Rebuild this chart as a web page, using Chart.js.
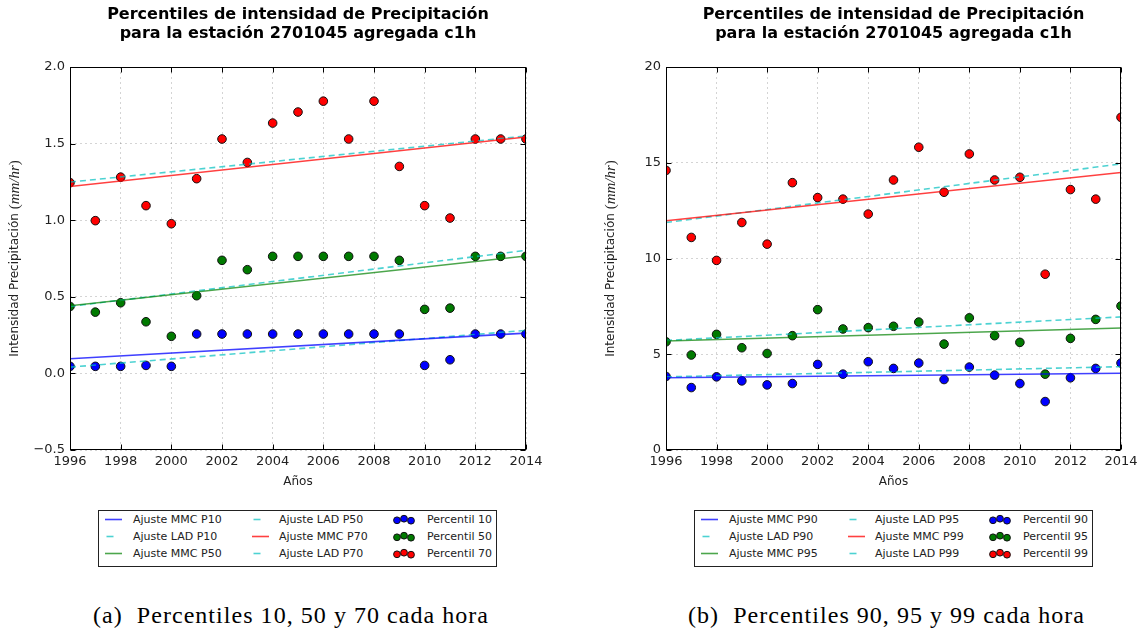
<!DOCTYPE html>
<html>
<head>
<meta charset="utf-8">
<script src="https://cdn.jsdelivr.net/npm/chart.js@4.4.1/dist/chart.umd.min.js"></script>
<style>
  body { margin: 0; background: #fff; width: 1143px; height: 636px; position: relative; overflow: hidden; font-family: "DejaVu Sans", sans-serif; }
  canvas { position: absolute; top: 0; }
  .legend { position: absolute; top: 510px; width: 397px; height: 55px; border: 1px solid #222; }
  .item { position: absolute; height: 17px; line-height: 17px; font-size: 11px; color: #222; white-space: nowrap; }
  .item svg { position: absolute; top: 0; }
  .caption { position: absolute; top: 603px; font-family: "Liberation Serif", serif; font-size: 24px; line-height: 24px; color: #000; white-space: nowrap; }
</style>
</head>
<body>
<canvas id="chartA" width="560" height="500" style="left:0px"></canvas>
<canvas id="chartB" width="547" height="500" style="left:596px"></canvas>
<div class="legend" id="legendA" style="left:98px"></div>
<div class="legend" id="legendB" style="left:694px"></div>
<div class="caption" id="capA" style="left:93px">(a)&nbsp; Percentiles 10, 50 y 70 cada hora</div>
<div class="caption" id="capB" style="left:688px">(b)&nbsp; Percentiles 90, 95 y 99 cada hora</div>
<script>
// años
const years = [1996, 1997, 1998, 1999, 2000, 2001, 2002, 2003, 2004, 2005, 2006, 2007, 2008, 2009, 2010, 2011, 2012, 2013, 2014];

// percentiles (mm/hr), panel (a)
const p10 = [0.046, 0.046, 0.046, 0.052, 0.046, 0.257, 0.257, 0.257, 0.257, 0.257, 0.257, 0.257, 0.257, 0.257, 0.052, 0.089, 0.257, 0.257, 0.257];
const p50 = [0.437, 0.40, 0.461, 0.337, 0.242, 0.507, 0.738, 0.677, 0.764, 0.764, 0.764, 0.764, 0.764, 0.738, 0.418, 0.426, 0.764, 0.764, 0.764];
const p70 = [1.245, 0.997, 1.281, 1.095, 0.977, 1.271, 1.53, 1.377, 1.634, 1.706, 1.777, 1.53, 1.777, 1.351, 1.095, 1.014, 1.53, 1.53, 1.53];

// percentiles (mm/hr), panel (b)
const p90 = [3.84, 3.26, 3.82, 3.61, 3.40, 3.47, 4.47, 3.96, 4.61, 4.26, 4.54, 3.68, 4.33, 3.91, 3.47, 2.53, 3.77, 4.26, 4.54];
const p95 = [5.65, 4.96, 6.04, 5.34, 5.04, 5.97, 7.33, 6.32, 6.39, 6.46, 6.68, 5.53, 6.90, 5.97, 5.62, 3.96, 5.83, 6.82, 7.52];
const p99 = [14.6, 11.1, 9.9, 11.88, 10.75, 13.96, 13.18, 13.1, 12.32, 14.1, 15.81, 13.46, 15.46, 14.1, 14.24, 9.18, 13.6, 13.1, 17.37];

// ajustes lineales: valores en 1996 y 2014
const fitYears = [1996, 2014];
const mmcP10 = [0.096, 0.263];
const ladP10 = [0.041, 0.281];
const mmcP50 = [0.442, 0.766];
const ladP50 = [0.437, 0.803];
const mmcP70 = [1.22, 1.543];
const ladP70 = [1.249, 1.55];
const mmcP90 = [3.77, 4.01];
const ladP90 = [3.82, 4.35];
const mmcP95 = [5.69, 6.37];
const ladP95 = [5.72, 6.95];
const mmcP99 = [11.97, 14.49];
const ladP99 = [11.88, 14.94];

// ejes
const xTicks = [1996, 1998, 2000, 2002, 2004, 2006, 2008, 2010, 2012, 2014];
const yTicksA = [-0.5, 0.0, 0.5, 1.0, 1.5, 2.0];
const yTicksB = [0, 5, 10, 15, 20];

const titleLines = ["Percentiles de intensidad de Precipitación", "para la estación 2701045 agregada c1h"];
const xTitle = "Años";
const yTitleParts = [
  { text: "Intensidad Precipitación ", font: "12px 'DejaVu Sans'" },
  { text: "(", font: "15px 'Liberation Serif'" },
  { text: "mm/hr", font: "italic 15px 'Liberation Serif'" },
  { text: ")", font: "15px 'Liberation Serif'" }
];

const labelsA = ["Ajuste MMC P10", "Ajuste LAD P10", "Ajuste MMC P50", "Ajuste LAD P50", "Ajuste MMC P70", "Ajuste LAD P70", "Percentil 10", "Percentil 50", "Percentil 70"];
const labelsB = ["Ajuste MMC P90", "Ajuste LAD P90", "Ajuste MMC P95", "Ajuste LAD P95", "Ajuste MMC P99", "Ajuste LAD P99", "Percentil 90", "Percentil 95", "Percentil 99"];

const BLUE = "rgba(0,0,255,0.75)", GREEN = "rgba(0,128,0,0.7)", RED = "rgba(255,0,0,0.75)", CYAN = "rgba(0,191,191,0.7)";
const DOT = ["#0000ff", "#007a00", "#ff0000"];

function fitSet(label, vals, color, dashed) {
  return {
    type: "line", label: label,
    data: fitYears.map((yr, i) => ({ x: yr, y: vals[i] })),
    borderColor: color, borderWidth: 1.6, borderDash: dashed ? [6, 4] : [],
    pointRadius: 0, pointHoverRadius: 0, fill: false, clip: 0, _kind: dashed ? "dash" : "line"
  };
}
function dotSet(label, vals, color) {
  return {
    type: "scatter", label: label,
    data: years.map((yr, i) => ({ x: yr, y: vals[i] })),
    backgroundColor: color, borderColor: "#111", borderWidth: 1,
    pointRadius: 4.3, pointHoverRadius: 4.3, clip: 0, _kind: "dots"
  };
}

const frame = {
  id: "frame",
  afterDraw(chart) {
    const { ctx, chartArea: a, scales: { x, y } } = chart;
    const L = Math.round(a.left) + 0.5, R = Math.round(a.right) - 0.5;
    const T = Math.round(a.top) + 0.5, B = Math.round(a.bottom) - 0.5;
    ctx.save();
    ctx.strokeStyle = "#000";
    ctx.lineWidth = 1;
    ctx.beginPath();
    x.ticks.forEach(t => {
      const p = Math.round(x.getPixelForValue(t.value)) + 0.5;
      ctx.moveTo(p, B); ctx.lineTo(p, B - 5);
      ctx.moveTo(p, T); ctx.lineTo(p, T + 5);
    });
    y.ticks.forEach(t => {
      const p = Math.round(y.getPixelForValue(t.value)) + 0.5;
      ctx.moveTo(L, p); ctx.lineTo(L + 5, p);
      ctx.moveTo(R, p); ctx.lineTo(R - 5, p);
    });
    ctx.stroke();
    ctx.strokeRect(L, T, R - L, B - T);

    // título del eje y con la parte en cursiva
    ctx.translate(15, (a.top + a.bottom) / 2);
    ctx.rotate(-Math.PI / 2);
    ctx.fillStyle = "#222";
    ctx.textBaseline = "middle";
    let total = 0;
    yTitleParts.forEach(p => { ctx.font = p.font; total += ctx.measureText(p.text).width; });
    let cx = -total / 2;
    yTitleParts.forEach(p => { ctx.font = p.font; ctx.fillText(p.text, cx, 0); cx += ctx.measureText(p.text).width; });
    ctx.restore();
  }
};

const tickFont = { family: "DejaVu Sans", size: 13 };

function makeChart(id, datasets, yMin, yMax, yStep, yFmt, padRight) {
  return new Chart(document.getElementById(id), {
    type: "scatter",
    data: { datasets: datasets },
    options: {
      responsive: false,
      animation: false,
      layout: { padding: { left: 0, right: padRight, top: 0, bottom: 0 } },
      plugins: {
        legend: { display: false },
        tooltip: { enabled: false },
        title: {
          display: true, fullSize: false, text: titleLines, color: "#000",
          font: { family: "DejaVu Sans", size: 16, weight: "bold", lineHeight: "19px" },
          padding: { top: 5, bottom: 24 }
        }
      },
      scales: {
        x: {
          type: "linear", min: xTicks[0], max: xTicks[xTicks.length - 1],
          afterFit: s => { s.height = 50; },
          afterBuildTicks: s => { s.ticks = xTicks.map(v => ({ value: v })); },
          ticks: { font: tickFont, color: "#222", padding: 4, maxRotation: 0, callback: v => String(v) },
          grid: { color: "rgba(0,0,0,0.17)", drawTicks: false },
          border: { display: false, dash: [2, 3] },
          title: { display: true, text: xTitle, color: "#222", font: { family: "DejaVu Sans", size: 12 }, padding: { top: 0, bottom: 11 } }
        },
        y: {
          type: "linear", min: yMin, max: yMax,
          afterFit: s => { s.width = 70; },
          ticks: { font: tickFont, color: "#222", padding: 5, stepSize: yStep, callback: yFmt },
          grid: { color: "rgba(0,0,0,0.17)", drawTicks: false },
          border: { display: false, dash: [2, 3] }
        }
      }
    },
    plugins: [frame]
  });
}

const fmtA = v => (v < 0 ? "\u2212" + Math.abs(v).toFixed(1) : v.toFixed(1));
const fmtB = v => String(v);

const setsA = [
  fitSet(labelsA[0], mmcP10, BLUE, false),
  fitSet(labelsA[1], ladP10, CYAN, true),
  fitSet(labelsA[2], mmcP50, GREEN, false),
  fitSet(labelsA[3], ladP50, CYAN, true),
  fitSet(labelsA[4], mmcP70, RED, false),
  fitSet(labelsA[5], ladP70, CYAN, true),
  dotSet(labelsA[6], p10, DOT[0]),
  dotSet(labelsA[7], p50, DOT[1]),
  dotSet(labelsA[8], p70, DOT[2])
];
const setsB = [
  fitSet(labelsB[0], mmcP90, BLUE, false),
  fitSet(labelsB[1], ladP90, CYAN, true),
  fitSet(labelsB[2], mmcP95, GREEN, false),
  fitSet(labelsB[3], ladP95, CYAN, true),
  fitSet(labelsB[4], mmcP99, RED, false),
  fitSet(labelsB[5], ladP99, CYAN, true),
  dotSet(labelsB[6], p90, DOT[0]),
  dotSet(labelsB[7], p95, DOT[1]),
  dotSet(labelsB[8], p99, DOT[2])
];

const chartA = makeChart("chartA", setsA, yTicksA[0], yTicksA[yTicksA.length - 1], 0.5, fmtA, 34);
const chartB = makeChart("chartB", setsB, yTicksB[0], yTicksB[yTicksB.length - 1], 5, fmtB, 22);

// leyenda en 3 columnas, a partir de los datasets de cada gráfico
function buildLegend(boxId, chart) {
  const box = document.getElementById(boxId);
  const colIcon = [6, 153, 294], colText = [34, 180, 328];
  chart.data.datasets.forEach((ds, i) => {
    const col = Math.floor(i / 3), row = i % 3;
    const item = document.createElement("div");
    item.className = "item";
    item.style.left = "0px";
    item.style.top = (row * 17) + "px";
    let svg;
    if (ds._kind === "dots") {
      const dy = [0.8, -0.8, 1.2];
      svg = '<svg width="24" height="17" style="left:' + colIcon[col] + 'px">' +
        [4, 11, 18].map((cx, k) => '<circle cx="' + cx + '" cy="' + (8.5 + dy[k]) + '" r="3.4" fill="' + ds.backgroundColor + '" stroke="#111" stroke-width="1"/>').join("") + '</svg>';
    } else if (ds._kind === "dash") {
      svg = '<svg width="18" height="17" style="left:' + colIcon[col] + 'px"><line x1="1.5" y1="8.5" x2="8.5" y2="8.5" stroke="' + ds.borderColor + '" stroke-width="1.6"/></svg>';
    } else {
      svg = '<svg width="18" height="17" style="left:' + colIcon[col] + 'px"><line x1="0" y1="8.5" x2="17" y2="8.5" stroke="' + ds.borderColor + '" stroke-width="1.6"/></svg>';
    }
    item.innerHTML = svg + '<span style="position:absolute;left:' + colText[col] + 'px"></span>';
    item.querySelector("span").textContent = ds.label;
    box.appendChild(item);
  });
}
buildLegend("legendA", chartA);
buildLegend("legendB", chartB);

// ajustar el ancho de los pies de figura
function fitCaption(id, target) {
  const el = document.getElementById(id);
  const w = el.getBoundingClientRect().width;
  const n = el.textContent.length;
  el.style.letterSpacing = ((target - w) / n).toFixed(2) + "px";
}
fitCaption("capA", 396);
fitCaption("capB", 397);
</script>
</body>
</html>
